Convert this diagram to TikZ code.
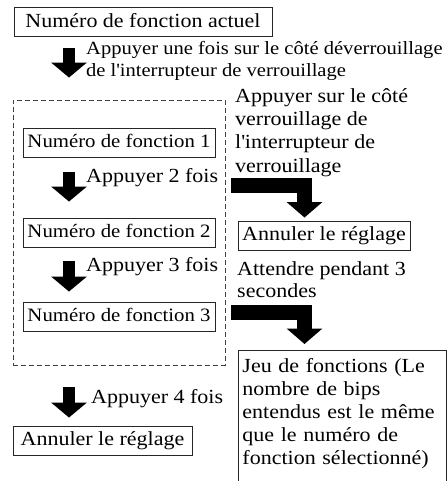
\documentclass[tikz,border=0pt]{standalone}
\usepackage{fontspec}
\setmainfont{Liberation Serif}[FakeStretch=1.1]
\usepackage{tikz}
\usetikzlibrary{arrows.meta}

\begin{document}
\begin{tikzpicture}[
  x=1pt, y=-1pt,
  font=\fontsize{20}{23}\selectfont,
  box/.style={
    draw=black!85, line width=0.9pt,
    inner xsep=2pt, inner ysep=0pt,
    text height=14.8pt, text depth=5pt,
    minimum height=29pt
  },
  fbox/.style={box, minimum width=192pt, font=\fontsize{18.9}{23}\selectfont},
  frame/.style={
    draw=black!75, line width=0.9pt, dash pattern=on 5pt off 3pt,
    minimum width=212pt, minimum height=265pt
  },
  lbl/.style={inner sep=0pt, align=left, anchor=base west},
  downarrow/.style={line width=12pt, -{Triangle[length=15pt,width=35pt]}},
  bentarrow/.style={line width=15pt, -{Triangle[length=15.5pt,width=35pt]}}
]
\useasboundingbox (0,0) rectangle (447,481);

\node[box, minimum width=258pt] (cur) at (143,22.2) {Numéro de fonction actuel};
\node[frame] (grp) at (119,232.5) {};
\node[fbox] (f1) at (119,142.5) {Numéro de fonction 1};
\node[fbox] (f2) at (119,232.5) {Numéro de fonction 2};
\node[fbox] (f3) at (119,317) {Numéro de fonction 3};
\node[box, minimum width=172pt] (cancelr) at (324,236) {Annuler le réglage};
\node[box, minimum width=179pt] (cancelb) at (102.5,440.5) {Annuler le réglage};
\node[box, anchor=north west, align=left, text width=200pt,
  inner xsep=4pt, inner ysep=7pt, text depth=120pt] (jeu) at (238,350)
  {Jeu de fonctions (Le\\nombre de bips\\entendus est le même\\que le numéro de\\fonction sélectionné)};

% texts beside the arrows (placed by their last baseline)
\node[lbl, font=\fontsize{18.7}{21.5}\selectfont] (l1) at (86,76.5)
  {Appuyer une fois sur le côté déverrouillage\\de l\textquotesingle interrupteur de verrouillage};
\node[lbl] (l2) at (86,182) {Appuyer 2 fois};
\node[lbl] (l3) at (86,271) {Appuyer 3 fois};
\node[lbl] (l4) at (91,403) {Appuyer 4 fois};
\node[lbl, font=\fontsize{20}{23.3}\selectfont] (l5) at (235,172)
  {Appuyer sur le côté\\verrouillage de\\l\textquotesingle interrupteur de\\verrouillage};
\node[lbl, font=\fontsize{20}{22}\selectfont] (l6) at (237,297)
  {Attendre pendant 3\\secondes};

% arrows
\draw[downarrow] ([xshift=-74pt,yshift=-11.3pt]cur.south) -- ([xshift=-50pt,yshift=22pt]grp.north);
\draw[downarrow] ([xshift=-50pt,yshift=-15pt]f1.south) -- ([xshift=-50pt,yshift=16pt]f2.north);
\draw[downarrow] ([xshift=-50pt,yshift=-14pt]f2.south) -- ([xshift=-50pt,yshift=10.5pt]f3.north);
\draw[downarrow] ([xshift=-50pt,yshift=-22pt]grp.south) -- ([xshift=-33.5pt,yshift=8pt]cancelb.north);
\coordinate (b1) at (231,185.5);
\coordinate (b2) at (231,312);
\draw[bentarrow] (b1) -| ([xshift=-19.5pt,yshift=3.5pt]cancelr.north);
\draw[bentarrow] (b2) -| ([xshift=66.5pt,yshift=6pt]jeu.north west);
\end{tikzpicture}
\end{document}
